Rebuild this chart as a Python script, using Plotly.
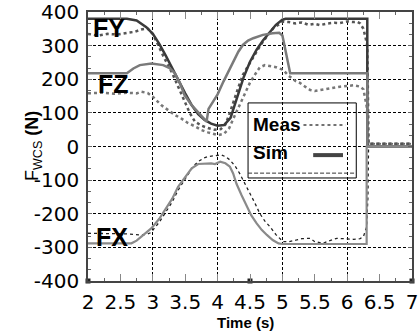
import plotly.graph_objects as go

# ---------------- data ----------------
t_fy_sim = [2.0, 2.6, 2.75, 2.9, 3.0, 3.1, 3.2, 3.3, 3.4, 3.5, 3.6, 3.7, 3.8, 3.9, 4.0,
            4.1, 4.2, 4.3, 4.4, 4.5, 4.6, 4.7, 4.8, 4.9, 5.0, 5.05, 6.31, 6.31, 7.0]
fy_sim = [380, 380, 375, 355, 335, 305, 270, 232, 193, 158, 123, 96, 79, 68, 62,
          64, 85, 145, 205, 252, 287, 315, 340, 362, 377, 380, 380, 0, 0]

t_fz_sim = [2.0, 2.6, 2.7, 2.8, 2.98, 3.16, 3.26, 3.34, 3.42, 3.49, 3.6, 3.73, 3.83, 3.86,
            3.93, 4.0, 4.09, 4.17, 4.24, 4.32, 4.39, 4.47, 4.55, 4.7, 4.85, 4.95, 5.0,
            5.04, 5.09, 5.12, 6.31, 6.31, 7.0]
fz_sim = [218, 218, 232, 242, 247, 242, 233, 218, 188, 153, 123, 94, 74, 112,
          133, 155, 193, 225, 252, 282, 302, 315, 322, 332, 337, 338, 330,
          293, 242, 218, 218, 0, 0]

t_fx_sim = [2.0, 2.67, 2.75, 2.83, 2.98, 3.1, 3.19, 3.3, 3.39, 3.5, 3.6, 3.7, 3.8, 3.9,
            3.96, 4.04, 4.12, 4.19, 4.24, 4.29, 4.37, 4.45, 4.52, 4.6, 4.68, 4.76, 4.85,
            4.94, 5.0, 6.30, 6.30, 7.0]
fx_sim = [-288, -288, -280, -268, -243, -215, -189, -155, -120, -90, -65, -52, -50, -50,
          -52, -45, -50, -60, -80, -110, -145, -179, -205, -228, -248, -263, -278,
          -288, -290, -290, 0, 0]

t_fy_meas = [2.0, 2.15, 2.3, 2.45, 2.6, 2.72, 2.82, 2.92, 3.0, 3.08, 3.18, 3.29, 3.39, 3.49,
             3.57, 3.65, 3.75, 3.85, 3.95, 4.05, 4.12, 4.18, 4.24, 4.31, 4.39, 4.47, 4.55,
             4.62, 4.7, 4.78, 4.86, 4.94, 5.01, 5.1, 5.2, 5.3, 5.4, 5.5, 5.58, 5.7, 5.8,
             5.89, 6.0, 6.1, 6.15, 6.2, 6.25, 6.28, 6.31, 6.33, 7.0]
fy_meas = [335, 330, 335, 333, 338, 341, 348, 351, 335, 302, 262, 222, 178, 133,
           100, 74, 62, 55, 50, 52, 65, 95, 133, 170, 213, 240, 263,
           288, 312, 332, 352, 362, 371, 370, 366, 369, 362, 365, 361, 366, 368,
           367, 372, 370, 371, 366, 350, 326, 300, 8, 8]

t_fz_meas = [2.0, 2.2, 2.4, 2.6, 2.75, 2.82, 2.92, 3.0, 3.13, 3.25, 3.34, 3.45, 3.54, 3.65,
             3.75, 3.85, 3.95, 4.01, 4.1, 4.18, 4.26, 4.34, 4.42, 4.5, 4.58, 4.65, 4.73,
             4.8, 4.9, 5.01, 5.1, 5.2, 5.27, 5.35, 5.43, 5.5, 5.58, 5.7, 5.8, 5.89, 6.0,
             6.1, 6.2, 6.25, 6.3, 6.33, 7.0]
fz_meas = [158, 160, 157, 160, 158, 163, 159, 148, 123, 105, 94, 82, 70, 60,
           49, 42, 36, 34, 38, 55, 90, 123, 158, 190, 215, 235, 242,
           240, 236, 228, 210, 195, 189, 178, 168, 165, 168, 172, 175, 178, 180,
           182, 178, 170, 120, 8, 8]

t_fx_meas = [2.0, 2.3, 2.6, 2.8, 2.9, 2.97, 3.1, 3.19, 3.3, 3.39, 3.47, 3.55, 3.62, 3.7,
             3.78, 3.85, 3.95, 4.06, 4.12, 4.19, 4.27, 4.34, 4.42, 4.5, 4.58, 4.65, 4.73,
             4.81, 4.9, 5.01, 5.1, 5.22, 5.3, 5.43, 5.5, 5.63, 5.7, 5.84, 5.95, 6.1, 6.2,
             6.25, 6.3, 6.32, 6.33, 7.0]
fx_meas = [-258, -258, -260, -263, -262, -256, -225, -198, -165, -130, -105, -80, -60, -45,
           -35, -30, -27, -25, -30, -40, -58, -80, -110, -139, -170, -199, -222,
           -239, -262, -283, -283, -278, -274, -273, -283, -288, -282, -273, -275, -276, -274,
           -268, -239, -150, 8, 8]

corner_x = [2, 4.5, 7]
corner_y = [-400, -400, -400]

x_ticks = [2, 2.5, 3, 3.5, 4, 4.5, 5, 5.5, 6, 6.5, 7]
x_ticktext = ["2", "2.5", "3", "3.5", "4", "4.5", "5", "5.5", "6", "6.5", "7"]
y_ticks = [-400, -300, -200, -100, 0, 100, 200, 300, 400]
y_ticktext = ["-400", "-300", "-200", "-100", "0", "100", "200", "300", "400"]
x_grid_ticks = [3, 4, 5, 6]

labels = ["FY", "FZ", "FX"]
label_x = [2.32, 2.39, 2.37]
label_y = [352, 186, -269]

# ---------------- figure ----------------
fig = go.Figure()

def add_line(t, v, color, width, dash="solid"):
    fig.add_trace(go.Scatter(x=t, y=v, mode="lines", showlegend=False, hoverinfo="skip",
                             line=dict(color=color, width=width, dash=dash)))

add_line(t_fx_meas, fx_meas, "#222222", 1.3, "dot")
add_line(t_fz_meas, fz_meas, "#777777", 2.5, "dot")
add_line(t_fy_meas, fy_meas, "#555555", 2.5, "dot")
add_line(t_fy_sim, fy_sim, "#3a3a3a", 2.5)
add_line(t_fz_sim, fz_sim, "#7a7a7a", 2.5)
add_line(t_fx_sim, fx_sim, "#8a8a8a", 2.2)

# invisible trace for the integer-grid overlay axis
fig.add_trace(go.Scatter(x=x_grid_ticks, y=[0] * len(x_grid_ticks), xaxis="x2",
                         mode="markers", marker=dict(opacity=0), showlegend=False,
                         hoverinfo="skip"))

fig.add_trace(go.Scatter(x=corner_x, y=corner_y, mode="markers", showlegend=False,
                         hoverinfo="skip", cliponaxis=False,
                         marker=dict(symbol="square", size=5, color="#222222")))

tick_font = dict(family="DejaVu Sans", size=20, color="black")

fig.update_layout(
    template="none",
    width=419, height=332,
    margin=dict(l=88, r=7, t=12, b=51, autoexpand=False),
    paper_bgcolor="white", plot_bgcolor="white",
    showlegend=False,
    xaxis=dict(range=[2, 7], tickvals=x_ticks, ticktext=x_ticktext, automargin=False,
               showgrid=False, zeroline=False,
               showline=True, linecolor="#444444", linewidth=1.5, mirror="ticks",
               ticks="inside", ticklen=7, tickcolor="#888888",
               minor=dict(dtick=0.25, tick0=2, ticks="inside", ticklen=3, tickcolor="#666666"),
               tickfont=tick_font, ticklabelstandoff=2),
    xaxis2=dict(range=[2, 7], overlaying="x", tickvals=x_grid_ticks, showticklabels=False,
                automargin=False,
                showgrid=True, gridcolor="black", gridwidth=1, griddash="3px,2px",
                zeroline=False, ticks="", showline=False),
    yaxis=dict(range=[-400, 400], tickvals=y_ticks, ticktext=y_ticktext, automargin=False,
               showgrid=True, gridcolor="black", gridwidth=1, griddash="3px,2px",
               zeroline=False,
               showline=True, linecolor="#444444", linewidth=1.5, mirror="ticks",
               ticks="inside", ticklen=4, tickcolor="#666666",
               minor=dict(dtick=100 / 3, tick0=-400, ticks="inside", ticklen=3, tickcolor="#666666"),
               tickfont=tick_font, ticklabelstandoff=3),
)

# curve labels
for txt, lx, ly in zip(labels, label_x, label_y):
    fig.add_annotation(x=lx, y=ly, text=f"<b>{txt}</b>", showarrow=False,
                       font=dict(family="Liberation Sans, Arial", size=25, color="black"))

# axis titles
fig.add_annotation(xref="paper", yref="paper", x=0.485, y=-0.154, text="<b>Time (s)</b>",
                   showarrow=False, yanchor="middle",
                   font=dict(family="Liberation Sans, Arial", size=15, color="black"))
fig.add_annotation(xref="paper", yref="paper", x=-0.208, y=0.502,
                   text="F<sub>WCS</sub> <b>(N)</b>", textangle=-90, showarrow=False,
                   font=dict(family="Liberation Sans, Arial", size=18, color="black"))

# legend box (custom: text left, sample right)
fig.add_shape(type="rect", xref="paper", yref="paper", x0=0.494, x1=0.828, y0=0.383, y1=0.662,
              line=dict(color="black", width=1), fillcolor="rgba(0,0,0,0)")
fig.add_shape(type="line", xref="paper", yref="paper", x0=0.494, x1=0.828, y0=0.401, y1=0.401,
              line=dict(color="#333333", width=1, dash="4px,2px"))
fig.add_annotation(xref="paper", yref="paper", x=0.503, y=0.58, text="<b>Meas</b>",
                   showarrow=False, xanchor="left", yanchor="middle",
                   font=dict(family="Liberation Sans, Arial", size=19, color="black"))
fig.add_annotation(xref="paper", yref="paper", x=0.503, y=0.476, text="<b>Sim</b>",
                   showarrow=False, xanchor="left", yanchor="middle",
                   font=dict(family="Liberation Sans, Arial", size=19, color="black"))
fig.add_shape(type="line", xref="paper", yref="paper", x0=0.665, x1=0.795, y0=0.58, y1=0.58,
              line=dict(color="#444444", width=1.5, dash="dot"))
fig.add_shape(type="line", xref="paper", yref="paper", x0=0.695, x1=0.787, y0=0.468, y1=0.468,
              line=dict(color="#444444", width=4))

fig.write_html("out.html", config={"displayModeBar": False},
               post_script="document.body.style.margin='0';document.body.style.padding='0';")
